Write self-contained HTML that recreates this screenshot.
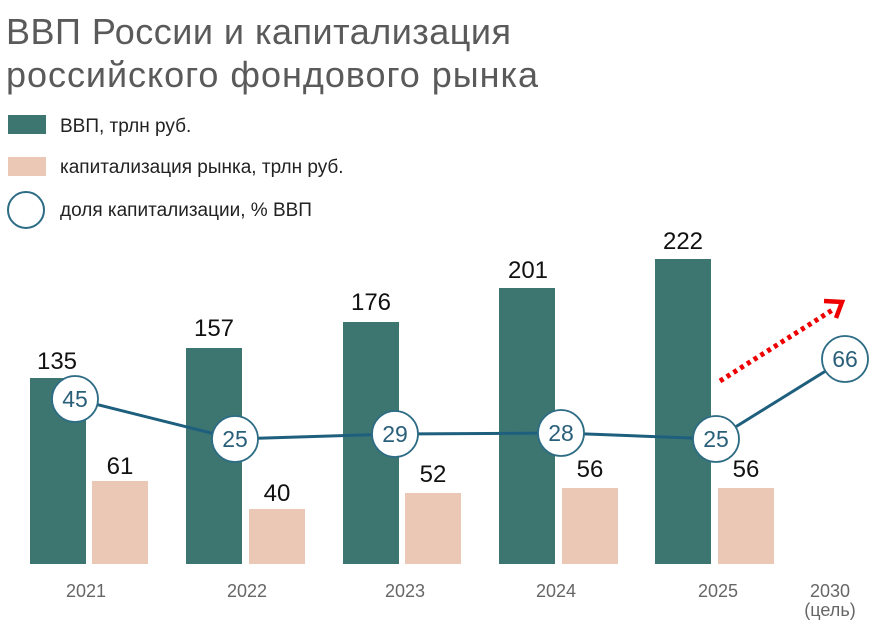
<!DOCTYPE html>
<html><head><meta charset="utf-8"><style>
body{margin:0;background:#fff;width:886px;height:623px;overflow:hidden}
</style></head><body>
<svg width="886" height="623" xmlns="http://www.w3.org/2000/svg" font-family="Liberation Sans, DejaVu Sans, sans-serif">
<text x="6" y="44" font-size="36" fill="#5a5a5a" textLength="505" lengthAdjust="spacing">ВВП России и капитализация</text>
<text x="6" y="87" font-size="36" fill="#5a5a5a" textLength="532" lengthAdjust="spacing">российского фондового рынка</text>
<rect x="8" y="115" width="38" height="19" fill="#3d7670"/>
<text x="60" y="132" font-size="19" fill="#222">ВВП, трлн руб.</text>
<rect x="8" y="157" width="38" height="19" fill="#ebc7b6"/>
<text x="60" y="173" font-size="19" fill="#222">капитализация рынка, трлн руб.</text>
<circle cx="26" cy="210" r="18" fill="#fff" stroke="#2d6c84" stroke-width="2"/>
<text x="60" y="216" font-size="19" fill="#222">доля капитализации, % ВВП</text>
<g fill="#3d7670">
<rect x="30" y="378" width="56" height="186"/>
<rect x="186" y="348" width="56" height="216"/>
<rect x="343" y="322" width="56" height="242"/>
<rect x="499" y="288" width="56" height="276"/>
<rect x="655" y="259" width="56" height="305"/>
</g>
<g fill="#ebc7b6">
<rect x="92" y="481" width="56" height="83"/>
<rect x="249" y="509" width="56" height="55"/>
<rect x="405" y="493" width="56" height="71"/>
<rect x="562" y="488" width="56" height="76"/>
<rect x="718" y="488" width="56" height="76"/>
</g>
<g font-size="24" fill="#111" text-anchor="middle">
<text x="57" y="369">135</text><text x="214" y="336">157</text><text x="371" y="310">176</text><text x="528" y="278">201</text><text x="683" y="249">222</text>
<text x="120" y="474">61</text><text x="277" y="501">40</text><text x="433" y="482">52</text><text x="590" y="477">56</text><text x="746" y="477">56</text>
</g>
<polyline points="75,399 235,439 395,434 561,433 716,439 845,359" fill="none" stroke="#1e5f7e" stroke-width="3"/>
<g fill="#fff" stroke="#2d6c84" stroke-width="1.8">
<circle cx="75" cy="399" r="23"/><circle cx="235" cy="439" r="23"/><circle cx="395" cy="434" r="23"/><circle cx="561" cy="433" r="23"/><circle cx="716" cy="439" r="23"/><circle cx="845" cy="359" r="23"/>
</g>
<g font-size="23" fill="#2a5f7a" text-anchor="middle">
<text x="75" y="407">45</text><text x="235" y="447">25</text><text x="395" y="442">29</text><text x="561" y="441">28</text><text x="716" y="447">25</text><text x="845" y="367">66</text>
</g>
<line x1="720" y1="381" x2="834" y2="309" stroke="#e00" stroke-width="5" stroke-dasharray="4 4"/>
<polyline points="824,301 842,302 836,318" fill="none" stroke="#e00" stroke-width="4.5"/>
<g font-size="18" fill="#666" text-anchor="middle">
<text x="86" y="597">2021</text><text x="247" y="597">2022</text><text x="405" y="597">2023</text><text x="556" y="597">2024</text><text x="718" y="597">2025</text><text x="830" y="597">2030</text><text x="830" y="616">(цель)</text>
</g>
</svg>
</body></html>
